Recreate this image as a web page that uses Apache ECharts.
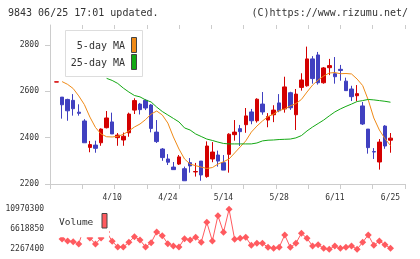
<!DOCTYPE html>
<html>
<head>
<meta charset="utf-8">
<script src="https://cdn.jsdelivr.net/npm/echarts@6/dist/echarts.min.js"></script>
<style>
html, body { margin: 0; padding: 0; background: #fff; }
#chart { width: 420px; height: 259px; }
</style>
</head>
<body>
<div id="chart"></div>
<script>
// trading days (M/D), last one is 6/25
const dates = [
  '3/27', '3/28', '3/29', '4/1', '4/2', '4/3', '4/4', '4/5', '4/8', '4/9',
  '4/10', '4/11', '4/12', '4/15', '4/16', '4/17', '4/18', '4/19', '4/22', '4/23',
  '4/24', '4/25', '4/26', '4/30', '5/1', '5/2', '5/7', '5/8', '5/9', '5/13',
  '5/14', '5/15', '5/16', '5/17', '5/20', '5/21', '5/22', '5/23', '5/24', '5/27',
  '5/28', '5/29', '5/30', '5/31', '6/3', '6/4', '6/5', '6/6', '6/7', '6/10',
  '6/11', '6/12', '6/13', '6/14', '6/17', '6/18', '6/19', '6/20', '6/21', '6/24',
  '6/25'
];

const opens = [
  2640, 2575, 2565, 2561, 2510, 2472, 2358, 2368, 2378, 2443,
  2468, 2400, 2390, 2421, 2519, 2545, 2561, 2541, 2424, 2351,
  2308, 2273, 2286, 2266, 2292, 2252, 2299, 2232, 2308, 2325,
  2292, 2328, 2413, 2439, 2456, 2511, 2473, 2545, 2476, 2499,
  2550, 2524, 2594, 2499, 2617, 2624, 2740, 2757, 2637, 2702,
  2676, 2695, 2644, 2610, 2581, 2537, 2437, 2340, 2295, 2450,
  2389
];
const closes = [
  2641, 2542, 2516, 2525, 2505, 2378, 2370, 2354, 2437, 2485,
  2416, 2411, 2406, 2502, 2560, 2521, 2528, 2440, 2383, 2314,
  2294, 2262, 2317, 2214, 2278, 2254, 2239, 2364, 2338, 2299,
  2260, 2415, 2424, 2426, 2494, 2473, 2566, 2511, 2491, 2519,
  2516, 2619, 2529, 2588, 2649, 2740, 2655, 2637, 2701, 2711,
  2663, 2690, 2603, 2577, 2590, 2459, 2357, 2338, 2381, 2364,
  2398
];
const lows = [
  2640, 2482, 2473, 2495, 2495, 2378, 2337, 2335, 2365, 2440,
  2416, 2365, 2365, 2404, 2502, 2500, 2519, 2423, 2377, 2300,
  2282, 2262, 2282, 2214, 2249, 2232, 2214, 2227, 2294, 2275,
  2260, 2249, 2387, 2364, 2421, 2458, 2465, 2499, 2445, 2467,
  2510, 2508, 2520, 2433, 2603, 2620, 2633, 2629, 2633, 2670,
  2633, 2646, 2603, 2558, 2558, 2455, 2331, 2308, 2262, 2352,
  2335
];
const highs = [
  2641, 2575, 2568, 2588, 2544, 2480, 2386, 2387, 2440, 2515,
  2508, 2420, 2422, 2508, 2570, 2550, 2566, 2545, 2476, 2355,
  2329, 2295, 2325, 2275, 2312, 2291, 2299, 2384, 2381, 2344,
  2325, 2419, 2476, 2455, 2528, 2524, 2570, 2597, 2506, 2540,
  2588, 2663, 2598, 2610, 2678, 2793, 2752, 2770, 2705, 2740,
  2748, 2714, 2659, 2624, 2627, 2554, 2437, 2355, 2394, 2454,
  2420
];

const ma5 = [
  null, 2642, 2630, 2612, 2580, 2543, 2489, 2444, 2416, 2404,
  2403, 2406, 2414, 2429, 2446, 2459, 2478, 2502, 2515, 2498,
  2463, 2403, 2351, 2308, 2286, 2279, 2273, 2267, 2271, 2286,
  2296, 2308, 2334, 2360, 2386, 2424, 2450, 2472, 2491, 2502,
  2517, 2524, 2537, 2547, 2565, 2597, 2627, 2649, 2666, 2679,
  2681, 2676, 2677, 2675, 2653, 2625, 2563, 2485, 2433, 2396,
  2366
];
const ma25 = [
  null, null, null, null, null, null, null, null, null, 2656,
  2647, 2634, 2614, 2597, 2582, 2576, 2563, 2554, 2532, 2513,
  2498, 2483, 2468, 2442, 2433, 2416, 2405, 2394, 2388, 2381,
  2375, 2373, 2373, 2373, 2373, 2373, 2377, 2386, 2389, 2390,
  2392, 2393, 2394, 2399, 2409, 2429, 2446, 2461, 2476, 2494,
  2511, 2524, 2535, 2545, 2556, 2560, 2565, 2563, 2560, 2557,
  2553
];

const volumes = [
  null, 4508400, 4073200, 3920900, 3420500, 7336000, 4726000, 3420500, 4726000, 6031400,
  4008000, 2767800, 2767800, 3790400, 5008800, 4290800, 2767800, 3703400, 6031400, 5226400,
  3485800, 2985400, 2767800, 4573700, 4290800, 4878300, 3790400, 8141800, 4073200, 9577800,
  5966100, 10970300, 4443100, 4660700, 4878300, 3137700, 3572800, 3572800, 2702500, 2485000,
  2702500, 5378700, 2702500, 3572800, 5748600, 4660700, 2985400, 3268200, 2485000, 2267400,
  2985400, 2485000, 2702500, 2985400, 2290000, 3790400, 5378700, 3137700, 4073200, 3268200,
  2485000
];

const priceTicks = [2200, 2400, 2600, 2800];
const volumeTicks = [2267400, 6618850, 10970300];

const candles = dates.map((d, i) => [opens[i], closes[i], lows[i], highs[i]]);

const mono = 'DejaVu Sans Mono';
const axisGray = '#cccccc';
const textColor = '#333333';
const priceMin = 2200;
const priceMax = 2886.3;

var chart = echarts.init(document.getElementById('chart'));
var option;

option = {
  animation: false,
  grid: [
    { left: 50, right: 15, top: 25, bottom: 75 },          // axis frame
    { left: 53.72, right: 26.72, top: 25, bottom: 75 },    // candles
    { left: 53.72, right: 26.72, top: 209.3, bottom: 9.7 } // volume
  ],
  xAxis: [
    {
      gridIndex: 0, type: 'value', min: 0, max: 11, interval: 1,
      axisLine: { show: true, onZero: false, lineStyle: { color: axisGray } },
      axisTick: { show: true, length: 5, lineStyle: { color: axisGray } },
      axisLabel: { show: false },
      splitLine: { show: false }
    },
    {
      gridIndex: 0, type: 'value', min: 0, max: 11, interval: 1,
      axisLine: { show: false, onZero: false },
      axisTick: { show: true, inside: true, length: 4, lineStyle: { color: axisGray } },
      axisLabel: { show: false },
      splitLine: { show: false }
    },
    {
      gridIndex: 1, type: 'category', data: dates, boundaryGap: true,
      axisLine: { show: false },
      axisTick: { show: false },
      axisLabel: {
        interval: function (i) { return i > 0 && i % 10 === 0; },
        margin: 10,
        fontFamily: mono,
        fontSize: 8,
        color: textColor
      },
      splitLine: { show: false }
    },
    {
      gridIndex: 2, type: 'category', data: dates, boundaryGap: true, show: false
    }
  ],
  yAxis: [
    {
      gridIndex: 0, type: 'value', min: priceMin, max: priceMax, interval: 200,
      axisLine: { show: true, onZero: false, lineStyle: { color: axisGray } },
      axisTick: { show: true, length: 5, customValues: priceTicks, lineStyle: { color: axisGray } },
      axisLabel: {
        customValues: priceTicks,
        margin: 11,
        fontFamily: mono,
        fontSize: 8,
        color: textColor,
        formatter: function (v) { return v % 200 === 0 ? String(v) : ''; }
      },
      splitLine: { show: false }
    },
    {
      gridIndex: 0, type: 'value', min: priceMin, max: priceMax, interval: 200,
      axisLine: { show: false },
      axisTick: { show: true, inside: true, length: 3, customValues: priceTicks, lineStyle: { color: axisGray } },
      axisLabel: { show: false },
      splitLine: { show: false }
    },
    {
      gridIndex: 1, type: 'value', min: priceMin, max: priceMax, show: false
    },
    {
      gridIndex: 2, type: 'value', min: volumeTicks[0], max: volumeTicks[2],
      axisLine: { show: false },
      axisTick: { show: false },
      axisLabel: {
        customValues: volumeTicks,
        margin: 9.7,
        fontFamily: mono,
        fontSize: 8,
        color: textColor,
        formatter: function (v) { return String(v); }
      },
      splitLine: { show: false }
    }
  ],
  series: [
    {
      name: 'price',
      type: 'candlestick',
      xAxisIndex: 2,
      yAxisIndex: 2,
      barWidth: 4,
      data: candles,
      itemStyle: {
        color: '#d40000',
        color0: '#4040c0',
        borderColor: '#d40000',
        borderColor0: '#4040c0',
        borderWidth: 1
      }
    },
    {
      name: '5-day MA',
      type: 'line',
      xAxisIndex: 2,
      yAxisIndex: 2,
      data: ma5,
      symbol: 'none',
      lineStyle: { color: '#ef8a17', width: 1 }
    },
    {
      name: '25-day MA',
      type: 'line',
      xAxisIndex: 2,
      yAxisIndex: 2,
      data: ma25,
      symbol: 'none',
      lineStyle: { color: '#13a813', width: 1 }
    },
    {
      name: 'Volume',
      type: 'line',
      xAxisIndex: 3,
      yAxisIndex: 3,
      data: volumes,
      symbol: 'diamond',
      symbolSize: 7,
      showAllSymbol: true,
      itemStyle: { color: '#ff5a5f' },
      lineStyle: { color: '#ff5a5f', width: 1 }
    }
  ],
  graphic: [
    {
      type: 'text', x: 8, y: 13, z: 100,
      style: { text: '9843 06/25 17:01 updated.', font: '10px "DejaVu Sans Mono"', fill: textColor, align: 'left', verticalAlign: 'middle' }
    },
    {
      type: 'text', x: 408, y: 13, z: 100,
      style: { text: '(C)https://www.rizumu.net/', font: '10px "DejaVu Sans Mono"', fill: textColor, align: 'right', verticalAlign: 'middle' }
    },
    // MA legend box
    {
      type: 'rect', z: 100,
      shape: { x: 65.5, y: 30.5, width: 77, height: 46 },
      style: { fill: '#ffffff', stroke: '#dddddd', lineWidth: 1 }
    },
    {
      type: 'text', x: 125, y: 46, z: 101,
      style: { text: '5-day MA', font: '10px "DejaVu Sans Mono"', fill: textColor, align: 'right', verticalAlign: 'middle' }
    },
    {
      type: 'rect', z: 101,
      shape: { x: 131.5, y: 37.5, width: 5, height: 15 },
      style: { fill: '#ef8a17', stroke: '#444444', lineWidth: 1 }
    },
    {
      type: 'text', x: 125, y: 63, z: 101,
      style: { text: '25-day MA', font: '10px "DejaVu Sans Mono"', fill: textColor, align: 'right', verticalAlign: 'middle' }
    },
    {
      type: 'rect', z: 101,
      shape: { x: 131.5, y: 54.5, width: 5, height: 15 },
      style: { fill: '#13a813', stroke: '#444444', lineWidth: 1 }
    },
    // volume legend
    {
      type: 'rect', z: 100,
      shape: { x: 57, y: 200, width: 52, height: 37.3 },
      style: { fill: '#ffffff' }
    },
    {
      type: 'text', x: 59, y: 222.5, z: 101,
      style: { text: 'Volume', font: '9.5px "DejaVu Sans Mono"', fill: textColor, align: 'left', verticalAlign: 'middle' }
    },
    {
      type: 'rect', z: 101,
      shape: { x: 102, y: 213.5, width: 5, height: 14.5 },
      style: { fill: '#ff5a5f', stroke: '#444444', lineWidth: 1 }
    }
  ]
};

option && chart.setOption(option);
</script>
</body>
</html>
